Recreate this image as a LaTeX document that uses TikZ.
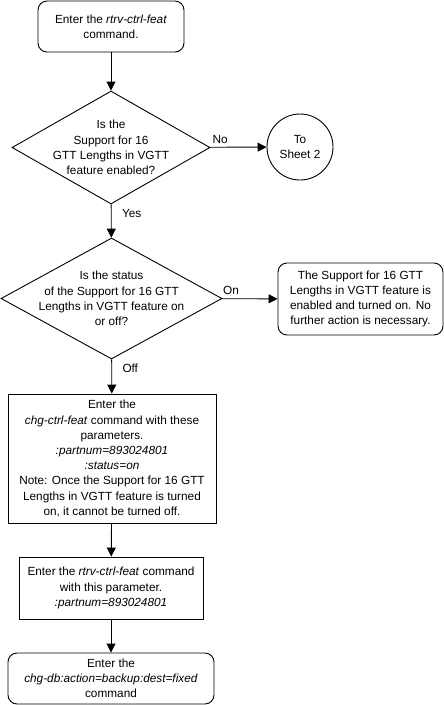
\documentclass[tikz,border=0pt]{standalone}
\usepackage{fontspec}
\setmainfont{Liberation Sans}
\usetikzlibrary{shapes.geometric,arrows.meta}
\begin{document}
\begin{tikzpicture}[x=1pt, y=-1pt, line width=0.9pt, >={Triangle[length=9pt,width=9pt]},
        font=\fontsize{11.8}{15.2}\selectfont,
        cmdbox/.style={draw, rounded corners=9pt, align=center, inner sep=0pt},
        stepbox/.style={draw, align=center, inner sep=0pt},
        decision/.style={draw, diamond, inner sep=0pt},
        sheet/.style={draw, circle, minimum size=66pt, align=center, inner sep=0pt}]
    \useasboundingbox (0,0) rectangle (444,705);
    \node[cmdbox, minimum width=146pt, minimum height=51pt] (enter) at (111,26.5)
        {Enter the \textit{rtrv-ctrl-feat}\\command.};
    \node[decision, minimum width=198pt, minimum height=113pt] (enabled) at (111,147.5) {};
    \node[align=center] at (enabled) {Is the\\Support for 16\\GTT Lengths in VGTT\\feature enabled?};
    \node[sheet] (sheet2) at (300,147) {To\\Sheet 2};
    \node[decision, minimum width=221pt, minimum height=121pt] (status) at (111.5,298.5) {};
    \node[align=center] at (status) {Is the status\\of the Support for 16 GTT\\Lengths in VGTT feature on\\or off?};
    \node[cmdbox, minimum width=165pt, minimum height=72pt] (done) at (360.5,299)
        {The Support for 16 GTT\\Lengths in VGTT feature is\\enabled and turned on. No\\further action is necessary.};
    \node[stepbox, minimum width=208pt, minimum height=129pt] (chg) at (112,458.5)
        {Enter the\\\textit{chg-ctrl-feat} command with these\\parameters.\\\textit{:partnum=893024801}\\\textit{:status=on}\\Note: Once the Support for 16 GTT\\Lengths in VGTT feature is turned\\on, it cannot be turned off.};
    \node[stepbox, minimum width=184pt, minimum height=62pt] (rtrv) at (111,588)
        {Enter the \textit{rtrv-ctrl-feat} command\\with this parameter.\\\textit{:partnum=893024801}};
    \node[cmdbox, minimum width=206pt, minimum height=51pt] (backup) at (111,678.5)
        {Enter the\\\textit{chg-db:action=backup:dest=fixed}\\command};
    \draw[->] (enter) -- (enabled);
    \draw[->] (enabled) -- (sheet2) node[pos=0.18, above] {No};
    \draw[->] (enabled) -- (status) node[pos=0.27, right=7pt] {Yes};
    \draw[->] (status) -- (done) node[pos=0.16, above] {On};
    \draw[->] (status) -- (chg) node[pos=0.25, right=7pt] {Off};
    \draw[->] (chg) -- (rtrv);
    \draw[->] (rtrv) -- (backup);
\end{tikzpicture}
\end{document}
